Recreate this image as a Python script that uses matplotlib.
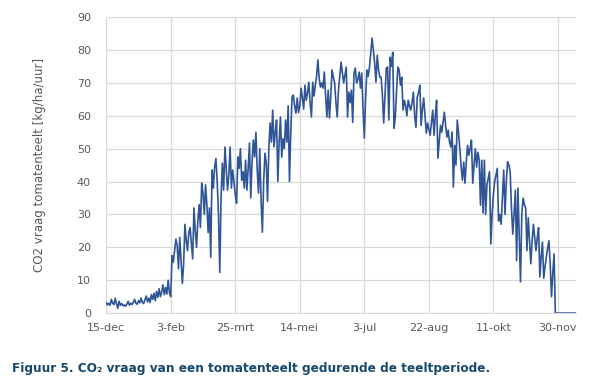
import numpy as np
import matplotlib
matplotlib.use("Agg")
import matplotlib.pyplot as plt

# Daily CO2 demand, starting 15-dec (365 days)
co2_demand = [
    3.2, 2.5, 3.0, 2.4, 4.2, 3.0, 2.6, 4.5, 2.8, 1.5,
    3.6, 2.4, 2.9, 2.2, 2.5, 2.1, 2.7, 3.6, 2.4, 3.0,
    2.6, 3.2, 4.2, 3.0, 2.7, 3.8, 3.1, 4.6, 3.3, 2.9,
    4.0, 5.2, 3.4, 4.6, 3.2, 5.6, 4.2, 6.0, 3.8, 6.6,
    4.8, 7.4, 5.0, 6.4, 8.6, 5.6, 7.8, 5.8, 10.0, 6.2,
    5.0, 17.5, 15.5, 19.0, 22.5, 20.5, 13.5, 23.0, 16.0, 9.0,
    15.0, 27.0, 22.0, 19.0, 24.5, 26.0, 21.0, 16.5, 32.0, 25.0,
    20.0, 28.0, 33.0, 26.0, 39.5, 36.5, 30.0, 39.0, 33.0, 24.5,
    32.0, 17.0, 43.5, 38.0, 44.4, 47.0, 40.0, 30.0, 12.4, 35.0,
    45.6, 37.4, 50.5, 44.0, 37.4, 42.0, 50.5, 38.0, 43.5, 40.0,
    36.0, 33.4, 47.5, 44.0, 50.0, 40.4, 43.0, 38.0, 46.5, 37.4,
    44.0, 51.7, 35.0, 46.0, 52.6, 47.5, 55.0, 43.5, 36.5, 50.0,
    34.0, 24.6, 40.0, 48.6, 45.6, 34.0, 50.0, 57.8, 52.0, 61.7,
    50.5, 55.0, 58.7, 40.0, 52.0, 59.6, 47.4, 53.0, 50.0, 58.7,
    52.0, 63.0, 40.0, 55.0, 65.7, 66.3, 63.0, 60.8, 65.4, 61.0,
    63.0, 68.4, 65.4, 62.0, 69.3, 64.7, 67.0, 70.2, 63.8, 59.6,
    70.2, 66.0, 69.3, 72.0, 77.0, 71.4, 68.7, 70.0, 68.4, 73.3,
    66.0, 59.6, 67.8, 59.3, 66.0, 73.9, 71.7, 70.0, 64.0, 59.6,
    68.0, 72.0, 76.3, 73.0, 70.0, 72.3, 74.8, 59.6, 67.2, 64.0,
    67.8, 58.0, 73.0, 74.5, 70.0, 71.0, 73.3, 68.4, 73.0, 62.0,
    53.2, 65.7, 73.9, 72.0, 74.8, 79.3, 83.6, 80.0, 76.0, 70.2,
    78.4, 74.0, 71.7, 71.7, 66.3, 57.8, 66.0, 74.5, 74.8, 58.7,
    77.8, 75.0, 79.3, 56.2, 59.6, 68.0, 74.8, 73.9, 69.3, 71.7,
    61.7, 64.7, 63.0, 60.0, 64.7, 63.0, 61.7, 64.0, 67.2, 60.0,
    56.5, 65.7, 67.0, 69.3, 57.1, 62.0, 65.4, 60.0, 54.7, 57.8,
    56.0, 54.1, 58.0, 61.7, 54.1, 60.0, 64.7, 47.1, 52.0, 57.1,
    55.0, 58.0, 61.1, 57.0, 53.5, 55.6, 52.0, 50.5, 55.0, 38.3,
    51.0, 45.0, 58.7, 54.7, 50.0, 44.4, 40.4, 45.9, 39.5, 46.0,
    51.0, 48.0, 50.0, 52.6, 39.5, 45.0, 50.0, 44.4, 48.9, 46.5,
    32.8, 46.5, 30.4, 46.5, 30.0, 39.0, 41.0, 43.0, 21.0, 30.0,
    36.0, 40.0, 42.0, 44.0, 28.0, 30.0, 27.0, 35.0, 43.5, 30.0,
    40.0, 46.0, 45.0, 43.0, 32.0, 24.0, 30.0, 37.4, 16.0, 38.0,
    24.0, 9.5, 30.0, 35.0, 33.0, 32.0, 19.0, 29.0, 22.0, 15.0,
    22.0, 27.0, 23.0, 19.0, 23.0, 26.0, 11.0, 17.0, 21.6, 10.6,
    14.0, 17.0, 19.7, 22.0, 15.0, 5.0, 12.0, 18.0, 0.0, 0.0,
    0, 0, 0, 0, 0, 0, 0, 0, 0, 0, 0, 0, 0, 0, 0,
]

tick_days = [0, 50, 100, 150, 200, 250, 300, 350]
tick_labels = ["15-dec", "3-feb", "25-mrt", "14-mei", "3-jul", "22-aug", "11-okt", "30-nov"]
y_ticks = list(range(0, 91, 10))

days = np.arange(len(co2_demand))
grey = "#595959"

fig = plt.figure(figsize=(6, 3.88), dpi=100)
ax = fig.add_axes([0.177, 0.193, 0.783, 0.763])

ax.plot(days, co2_demand, color="#2f5597", lw=1.2)

ax.set_xlim(0, 364)
ax.set_ylim(0, 90)
ax.set_xticks(tick_days)
ax.set_xticklabels(tick_labels)
ax.set_yticks(y_ticks)
ax.grid(True, color="#d9d9d9", lw=0.9)
ax.set_axisbelow(True)
for side in ["top", "right", "left"]:
    ax.spines[side].set_visible(False)
ax.spines["bottom"].set_color("#d9d9d9")
ax.tick_params(axis="x", length=0, labelsize=8, colors=grey, pad=7)
ax.tick_params(axis="y", length=0, labelsize=8, colors=grey, pad=11)
ax.set_ylabel("CO2 vraag tomatenteelt [kg/ha/uur]", fontsize=8.5, color=grey, labelpad=22)

fig.text(0.02, 0.05, "Figuur 5. CO\u2082 vraag van een tomatenteelt gedurende de teeltperiode.",
         fontsize=8.7, fontweight="bold", color="#17496e", va="center")

fig.savefig("out.png", dpi=100)
